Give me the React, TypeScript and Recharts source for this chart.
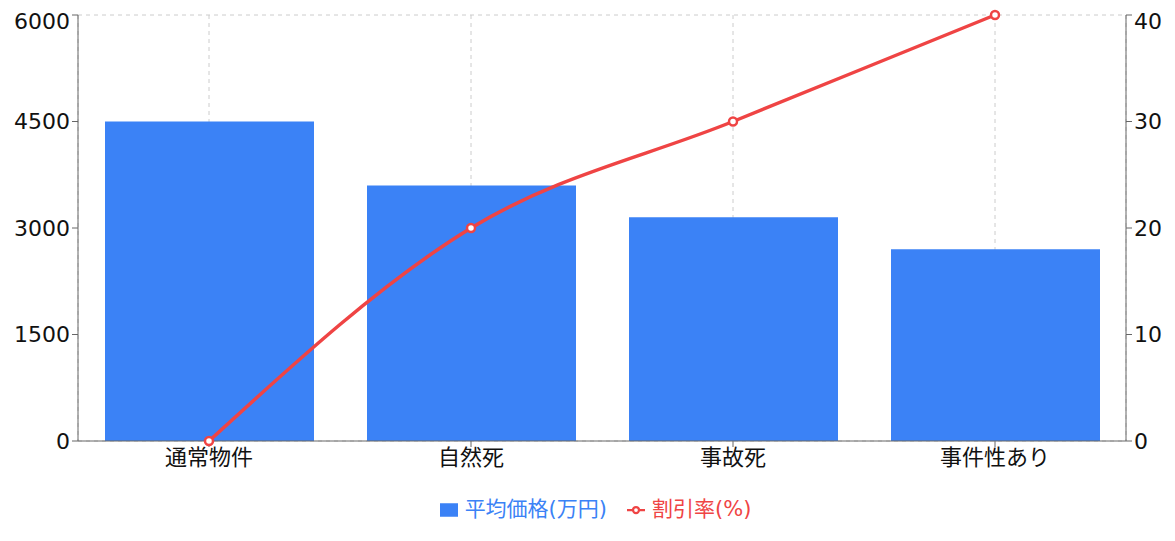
import { ComposedChart, Bar, Line, XAxis, YAxis, CartesianGrid, Legend } from "recharts";

const categories = ["通常物件", "自然死", "事故死", "事件性あり"];
const avgPrice = [4500, 3600, 3150, 2700];
const discountRate = [0, 20, 30, 40];
const priceTicks = [0, 1500, 3000, 4500, 6000];
const rateTicks = [0, 10, 20, 30, 40];
const seriesOrder = ["price", "rate"];

const data = categories.map((name, i) => ({
  name,
  price: avgPrice[i],
  rate: discountRate[i],
}));

const tickStyle = { fontSize: 22, fill: "#111" };

export default function App() {
  return (
    <div style={{ fontFamily: "'DejaVu Sans', 'Noto Sans CJK JP', sans-serif" }}>
      <ComposedChart width={1159} height={525} data={data} margin={{ top: 7, right: 0, bottom: 11, left: 0 }}>
        <CartesianGrid strokeDasharray="4 4" stroke="#ccc" />
        <XAxis dataKey="name" tick={tickStyle} stroke="#666" height={51} />
        <YAxis yAxisId="left" domain={[0, 6000]} ticks={priceTicks} width={70} tick={tickStyle} stroke="#666" />
        <YAxis yAxisId="right" orientation="right" domain={[0, 40]} ticks={rateTicks} width={41} tick={tickStyle} stroke="#666" />
        <Legend
          iconSize={18}
          wrapperStyle={{ fontSize: 21, paddingLeft: 26, boxSizing: "border-box" }}
          itemSorter={(item: any) => seriesOrder.indexOf(item.dataKey)}
          formatter={(value: string, entry: any) => (
            <span style={{ paddingLeft: 3, paddingRight: entry.dataKey === "price" ? 10 : 0 }}>{value}</span>
          )}
        />
        <Bar yAxisId="left" dataKey="price" name="平均価格(万円)" fill="#3b82f6" barSize={209} isAnimationActive={false} />
        <Line
          yAxisId="right"
          type="monotone"
          dataKey="rate"
          name="割引率(%)"
          stroke="#ef4444"
          strokeWidth={3.5}
          dot={{ r: 4, fill: "#fff", stroke: "#ef4444", strokeWidth: 2.5 }}
          isAnimationActive={false}
        />
      </ComposedChart>
    </div>
  );
}
